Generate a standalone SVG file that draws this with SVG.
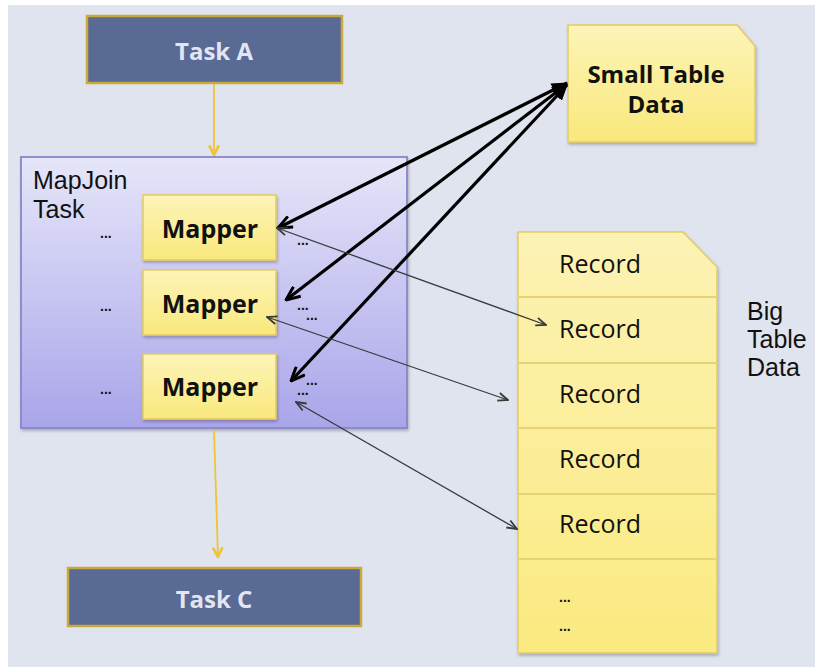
<svg xmlns="http://www.w3.org/2000/svg" width="815" height="667" viewBox="0 0 815 667">
  <style>
    .task-box { fill: #596a95; stroke: #c9a83c; stroke-width: 2.5; }
    .task-label { font-family: "Open Sans", "Liberation Sans", sans-serif; font-weight: 700; font-size: 24px; fill: #e2e6f2; text-anchor: middle; }
    .mapper-box { fill: url(#yellowFill); stroke: #e2cb63; stroke-width: 1.5; }
    .mapper-label { font-family: "Open Sans", "Liberation Sans", sans-serif; font-weight: 700; font-size: 25px; fill: #111; text-anchor: middle; }
    .plain { font-family: "Open Sans", "Liberation Sans", sans-serif; font-size: 25px; fill: #111; }
    .caption { font-family: "Liberation Sans", "Open Sans", sans-serif; font-size: 25px; fill: #111; }
    .bold { font-family: "Open Sans", "Liberation Sans", sans-serif; font-weight: 700; font-size: 24px; fill: #111; text-anchor: middle; }
    .dots { font-family: "Liberation Sans", "Open Sans", sans-serif; font-weight: 700; font-size: 14px; fill: #111; }
    .flow { stroke: #eec43a; stroke-width: 1.8; fill: none; }
    .thick { stroke: #000; stroke-width: 3.2; fill: none; }
    .thin { stroke: #3a3a3a; stroke-width: 1.3; fill: none; }
    .row { stroke: #e8d374; stroke-width: 2; }
  </style>
  <defs>
    <linearGradient id="yellowFill" x1="0" y1="0" x2="0" y2="1">
      <stop offset="0" stop-color="#fdf4b8"/>
      <stop offset="1" stop-color="#f9e87c"/>
    </linearGradient>
    <linearGradient id="bigFill" x1="0" y1="0" x2="0" y2="1">
      <stop offset="0" stop-color="#fcf2b4"/>
      <stop offset="1" stop-color="#fbea80"/>
    </linearGradient>
    <linearGradient id="lavender" x1="0" y1="0" x2="0" y2="1">
      <stop offset="0" stop-color="#e6e6f9"/>
      <stop offset="1" stop-color="#a9a5ea"/>
    </linearGradient>
    <marker id="flowHead" viewBox="0 0 10 10" refX="9" refY="5" markerWidth="12" markerHeight="12" markerUnits="userSpaceOnUse" orient="auto">
      <path d="M1,1 L9,5 L1,9" fill="none" stroke="#eec43a" stroke-width="2.2"/>
    </marker>
    <marker id="thickOpen" viewBox="0 0 16 14" refX="15" refY="7" markerWidth="16" markerHeight="14" markerUnits="userSpaceOnUse" orient="auto-start-reverse">
      <path d="M1,1 L15,7 L1,13" fill="none" stroke="#000" stroke-width="3"/>
    </marker>
    <marker id="thickSolid" viewBox="0 0 16 14" refX="15" refY="7" markerWidth="16" markerHeight="14" markerUnits="userSpaceOnUse" orient="auto">
      <path d="M0,0 L16,7 L0,14 Z" fill="#000"/>
    </marker>
    <marker id="thinOpen" viewBox="0 0 12 10" refX="11" refY="5" markerWidth="12" markerHeight="10" markerUnits="userSpaceOnUse" orient="auto-start-reverse">
      <path d="M1,1 L11,5 L1,9" fill="none" stroke="#3a3a3a" stroke-width="1.8"/>
    </marker>
    <filter id="shadow" x="-10%" y="-10%" width="120%" height="120%">
      <feDropShadow dx="1" dy="2" stdDeviation="1.5" flood-color="#000" flood-opacity="0.25"/>
    </filter>
  </defs>

  <!-- canvas -->
  <rect x="0" y="0" width="815" height="667" fill="#ffffff"/>
  <rect x="8" y="5" width="807" height="662" fill="#e0e4ee"/>

  <g id="task-a">
    <rect class="task-box" x="87" y="16" width="255" height="67"/>
    <text class="task-label" x="214" y="60">Task A</text>
  </g>

  <g id="mapjoin-task">
    <rect x="21" y="157" width="386" height="271" fill="url(#lavender)" stroke="#8985cc" stroke-width="1.8" filter="url(#shadow)"/>
    <text class="caption" x="33" y="189">MapJoin</text>
    <text class="caption" x="33" y="218">Task</text>
    <text class="dots" x="100" y="238">...</text>
    <text class="dots" x="100" y="311">...</text>
    <text class="dots" x="100" y="394">...</text>
    <text class="dots" x="297" y="245">...</text>
    <text class="dots" x="297" y="310">...<tspan x="306" y="320">...</tspan></text>
    <text class="dots" x="306" y="385">...<tspan x="297" y="395">...</tspan></text>
  </g>

  <g id="mapper-1">
    <rect class="mapper-box" x="143" y="195" width="133" height="65" filter="url(#shadow)"/>
    <text class="mapper-label" x="210" y="238">Mapper</text>
  </g>
  <g id="mapper-2">
    <rect class="mapper-box" x="143" y="270" width="133" height="65" filter="url(#shadow)"/>
    <text class="mapper-label" x="210" y="313">Mapper</text>
  </g>
  <g id="mapper-3">
    <rect class="mapper-box" x="143" y="354" width="133" height="65" filter="url(#shadow)"/>
    <text class="mapper-label" x="210" y="396">Mapper</text>
  </g>

  <g id="small-table-data">
    <path d="M568,25 H737 L755,46 V142 H568 Z" fill="url(#yellowFill)" stroke="#e2cb63" stroke-width="1.5" filter="url(#shadow)"/>
    <text class="bold" x="656" y="83">Small Table</text>
    <text class="bold" x="656" y="113">Data</text>
  </g>

  <g id="big-table-data">
    <path d="M518,232 H683 L717,267 V653 H518 Z" fill="url(#bigFill)" stroke="#e2cb63" stroke-width="1.5" filter="url(#shadow)"/>
    <line class="row" x1="519" y1="297" x2="716" y2="297"/>
    <line class="row" x1="519" y1="363" x2="716" y2="363"/>
    <line class="row" x1="519" y1="428" x2="716" y2="428"/>
    <line class="row" x1="519" y1="494" x2="716" y2="494"/>
    <line class="row" x1="519" y1="559" x2="716" y2="559"/>
    <text class="plain" x="559" y="273">Record</text>
    <text class="plain" x="559" y="338">Record</text>
    <text class="plain" x="559" y="403">Record</text>
    <text class="plain" x="559" y="468">Record</text>
    <text class="plain" x="559" y="533">Record</text>
    <text class="dots" x="559" y="602">...</text>
    <text class="dots" x="559" y="631">...</text>
    <text class="caption" x="747" y="320" font-size="24">Big</text>
    <text class="caption" x="747" y="348" font-size="24">Table</text>
    <text class="caption" x="747" y="376" font-size="24">Data</text>
  </g>

  <g id="task-c">
    <rect class="task-box" x="68" y="568" width="293" height="58"/>
    <text class="task-label" x="214" y="608">Task C</text>
  </g>

  <g id="connectors">
    <line class="flow" x1="214" y1="84" x2="214" y2="155" marker-end="url(#flowHead)"/>
    <line class="flow" x1="214" y1="430" x2="218" y2="557" marker-end="url(#flowHead)"/>
    <line class="thick" x1="278" y1="228" x2="567" y2="83" marker-start="url(#thickOpen)" marker-end="url(#thickSolid)"/>
    <line class="thick" x1="286" y1="300" x2="567" y2="84" marker-start="url(#thickOpen)" marker-end="url(#thickSolid)"/>
    <line class="thick" x1="291" y1="381" x2="567" y2="85" marker-start="url(#thickOpen)" marker-end="url(#thickSolid)"/>
    <line class="thin" x1="277" y1="228" x2="546" y2="325" marker-start="url(#thinOpen)" marker-end="url(#thinOpen)"/>
    <line class="thin" x1="267" y1="317" x2="508" y2="400" marker-start="url(#thinOpen)" marker-end="url(#thinOpen)"/>
    <line class="thin" x1="296" y1="402" x2="517" y2="529" marker-start="url(#thinOpen)" marker-end="url(#thinOpen)"/>
  </g>
</svg>
